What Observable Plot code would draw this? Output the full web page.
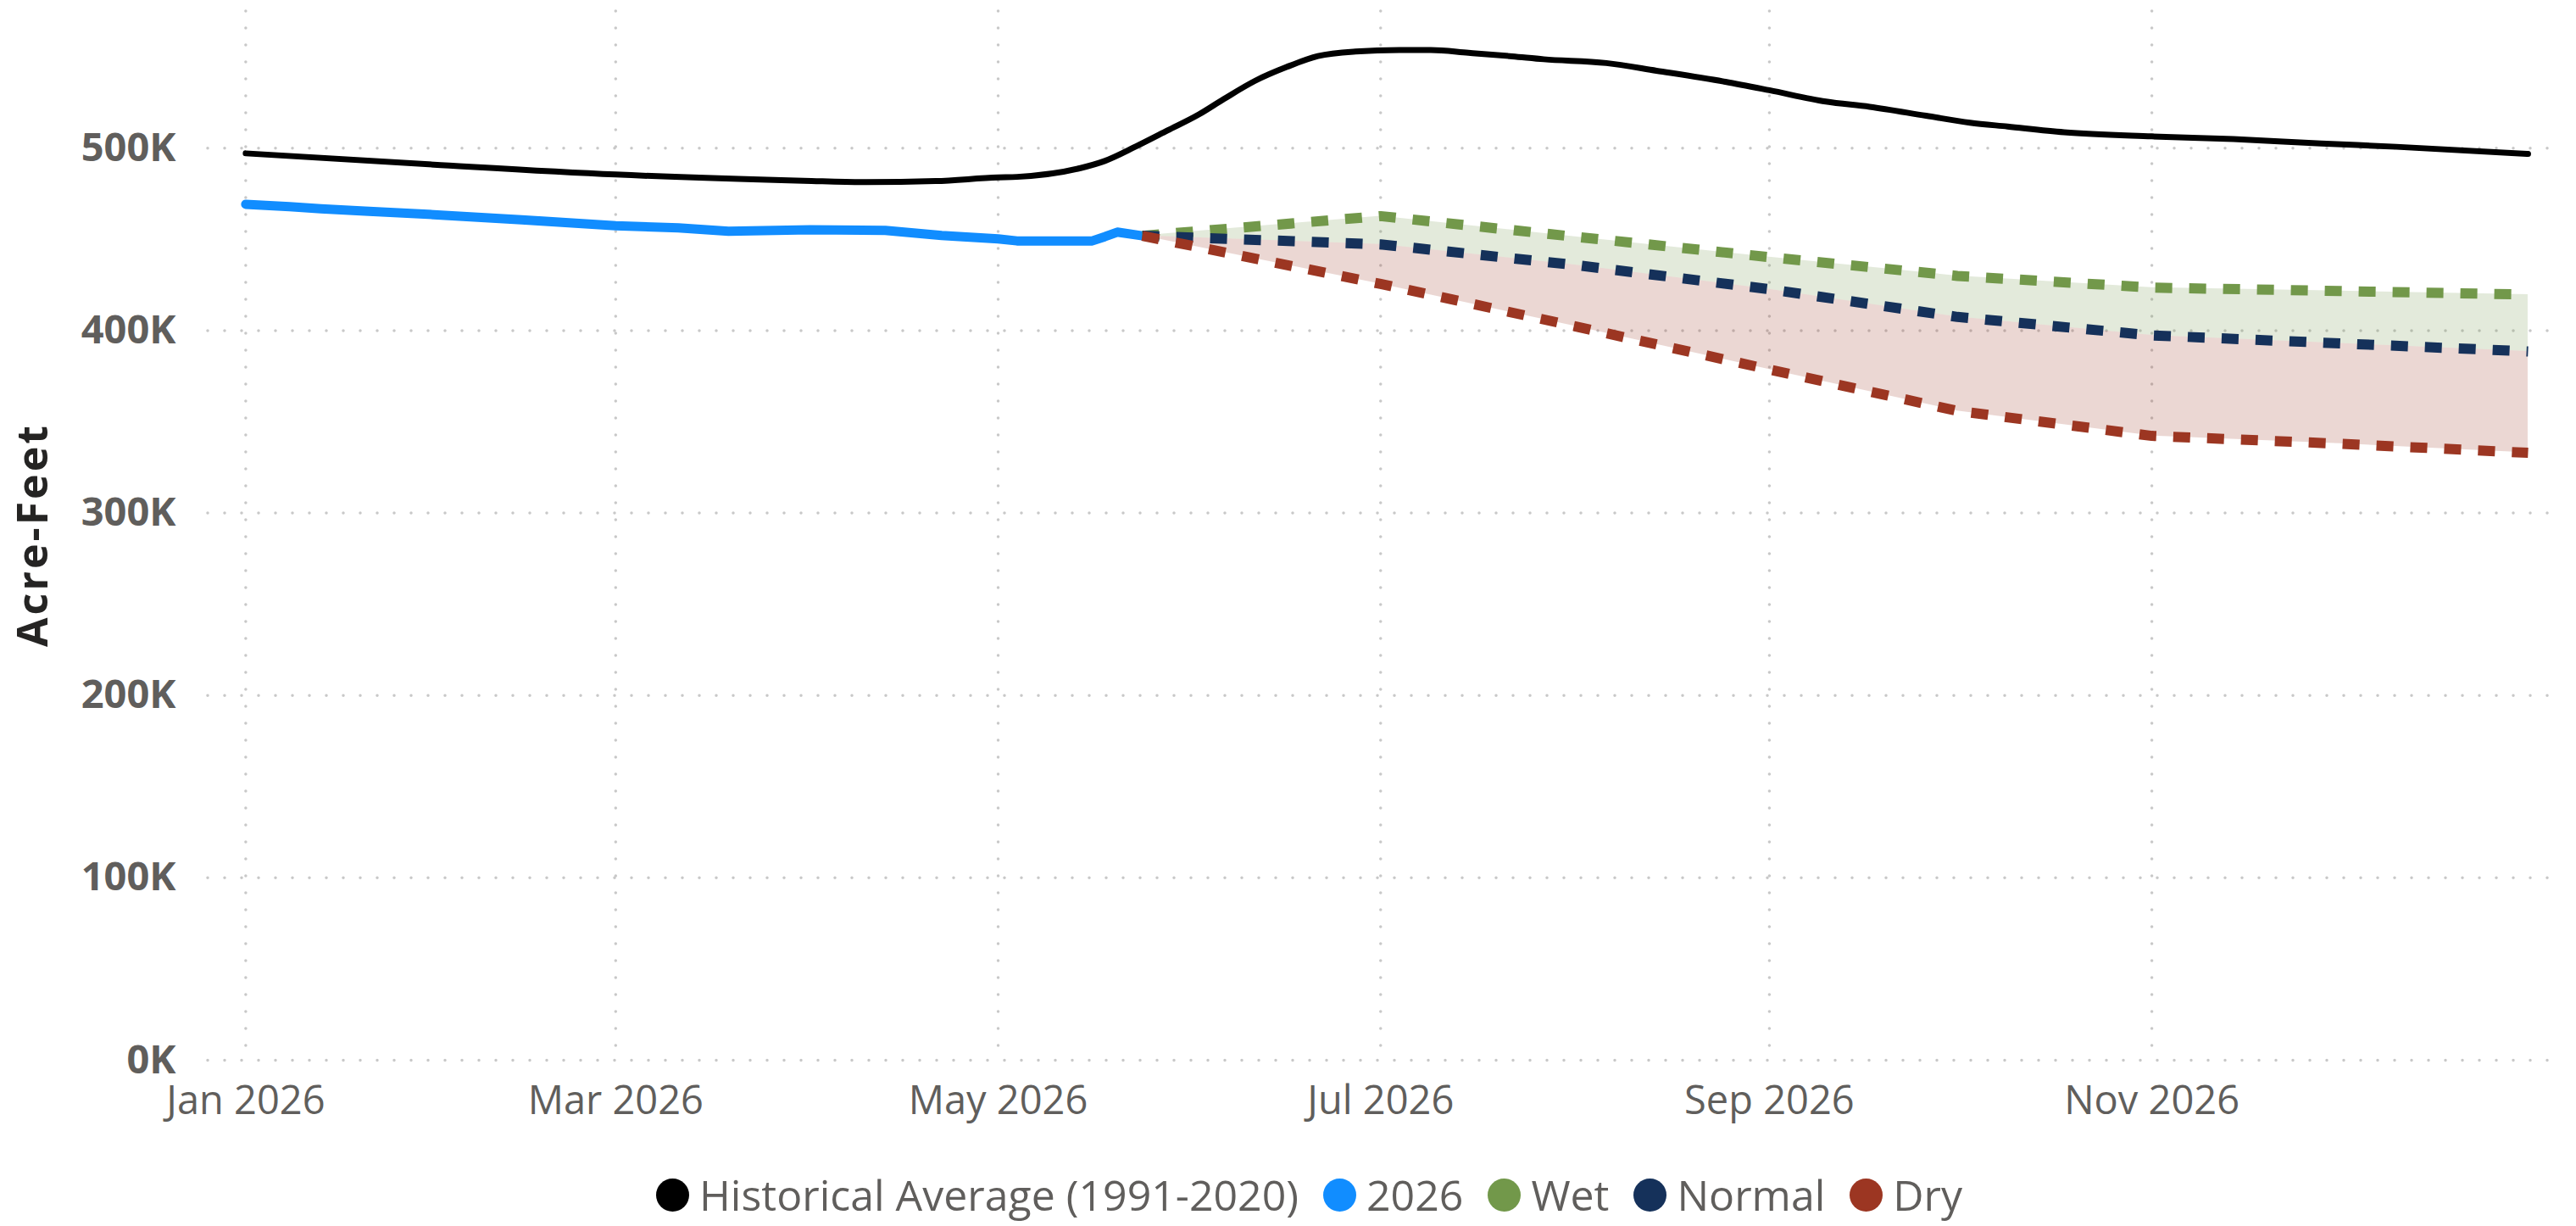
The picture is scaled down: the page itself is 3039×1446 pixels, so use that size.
<!DOCTYPE html>
<html>
<head>
<meta charset="utf-8">
<script src="https://cdn.jsdelivr.net/npm/d3@7"></script>
<script src="https://cdn.jsdelivr.net/npm/@observablehq/plot@0.6"></script>
<style>
  html, body { margin: 0; padding: 0; background: #ffffff; }
  body { font-family: "Open Sans", "Noto Sans", sans-serif; }
  #wrap { position: relative; width: 3039px; height: 1446px; overflow: hidden; }
  #chart { position: absolute; left: 0; top: 0; }
  #ytitle {
    position: absolute; left: 37px; top: 631px;
    transform: translate(-50%, -50%) rotate(-90deg);
    font-weight: bold; font-size: 50px; color: #252423;
    white-space: nowrap; letter-spacing: 3px; line-height: 1;
  }
  #legend {
    position: absolute; left: 774px; top: 1379px; height: 60px;
    display: flex; align-items: center;
    font-size: 50px; color: #605E5C; white-space: nowrap;
  }
  .item { display: flex; align-items: center; margin-right: 29px; }
  .dot { width: 39px; height: 39px; border-radius: 50%; margin-right: 12px; flex: none; }
</style>
</head>
<body>
<div id="wrap">
  <div id="chart"></div>
  <div id="ytitle">Acre-Feet</div>
  <div id="legend"></div>
</div>
<script>
// ---------------- data ----------------
const histDates = ["2026-01-01","2026-01-31","2026-03-01","2026-03-31","2026-04-10","2026-04-21","2026-05-01","2026-05-04","2026-05-14","2026-05-18","2026-05-23","2026-05-28","2026-06-02","2026-06-06","2026-06-11","2026-06-16","2026-06-21","2026-06-27","2026-07-04","2026-07-09","2026-07-15","2026-07-22","2026-07-27","2026-08-06","2026-08-14","2026-08-25","2026-09-01","2026-09-10","2026-09-17","2026-09-26","2026-10-03","2026-10-09","2026-10-18","2026-11-01","2026-11-14","2026-11-28","2026-12-10","2026-12-31"];
const histValues = [497200,491000,485600,482200,481400,482000,484000,484300,489000,493000,501000,509700,518500,527000,537000,544500,550500,553000,553800,553800,552300,550400,548800,546700,542500,536400,531800,525600,522700,517800,514000,511900,508800,506500,505000,502600,500800,496900];

const obsDates = ["2026-01-01","2026-01-08","2026-01-13","2026-01-20","2026-01-31","2026-02-14","2026-03-01","2026-03-11","2026-03-19","2026-04-01","2026-04-13","2026-04-22","2026-05-01","2026-05-04","2026-05-16","2026-05-18","2026-05-20","2026-05-24"];
const obsValues = [469300,468000,466800,465500,463600,460800,457500,456300,454500,455300,455000,452200,450300,449200,449200,451500,454000,452000];

const forecastDates = ["2026-05-24","2026-07-01","2026-08-01","2026-09-01","2026-10-01","2026-11-01","2026-12-01","2026-12-31"];
const wetValues    = [452000,462800,451500,440300,430000,423600,421700,419800];
const normalValues = [452000,447300,436000,422700,407500,397400,393000,388600];
const dryValues    = [452000,425600,402400,378700,356000,342300,338000,333000];

const xTickDates = ["2026-01-01","2026-03-01","2026-05-01","2026-07-01","2026-09-01","2026-11-01"];
const yTicks = [0,100000,200000,300000,400000,500000];

const seriesNames  = ["Historical Average (1991-2020)","2026","Wet","Normal","Dry"];
const seriesColors = ["#000000","#118DFF","#72984A","#15315A","#9C3622"];

// ---------------- tables ----------------
const hist = histDates.map((d,i) => ({date: new Date(d), value: histValues[i]}));
const obs = obsDates.map((d,i) => ({date: new Date(d), value: obsValues[i]}));
const forecast = forecastDates.map((d,i) => ({date: new Date(d), wet: wetValues[i], normal: normalValues[i], dry: dryValues[i]}));
const xTicks = xTickDates.map(d => new Date(d));

const gridStyle = {stroke: "#c8c8c8", strokeOpacity: 1, strokeWidth: 3.5, strokeDasharray: "0,20", strokeLinecap: "round"};

const chart = Plot.plot({
  width: 3039,
  height: 1345,
  marginLeft: 245,
  marginRight: 29,
  marginTop: 13,
  marginBottom: 95,
  style: {fontFamily: '"Open Sans", "Noto Sans", sans-serif', background: "#ffffff", overflow: "visible"},
  x: {type: "utc", domain: [new Date("2025-12-26T00:00Z"), new Date("2027-01-03T19:00Z")]},
  y: {domain: [0, 575000]},
  marks: [
    Plot.gridY(yTicks, gridStyle),
    Plot.gridX(xTicks, gridStyle),
    Plot.areaY(forecast, {x: "date", y1: "normal", y2: "wet", fill: seriesColors[2], fillOpacity: 0.2}),
    Plot.areaY(forecast, {x: "date", y1: "dry", y2: "normal", fill: seriesColors[4], fillOpacity: 0.2}),
    Plot.axisX(xTicks, {tickSize: 0, tickPadding: 30, fontSize: 47, color: "#605E5C", tickFormat: d3.utcFormat("%b %Y"), label: null}),
    Plot.axisY(yTicks, {tickSize: 0, tickPadding: 38, fontSize: 47, fontWeight: "bold", color: "#605E5C", tickFormat: d => (d / 1000) + "K", label: null}),
    Plot.lineY(hist, {x: "date", y: "value", stroke: seriesColors[0], strokeWidth: 7, strokeLinecap: "round", strokeLinejoin: "round", curve: "monotone-x"}),
    Plot.lineY(obs, {x: "date", y: "value", stroke: seriesColors[1], strokeWidth: 11, strokeLinecap: "round", strokeLinejoin: "round"}),
    Plot.lineY(forecast, {x: "date", y: "wet", stroke: seriesColors[2], strokeWidth: 12, strokeDasharray: "20,20", strokeLinecap: "butt"}),
    Plot.lineY(forecast, {x: "date", y: "normal", stroke: seriesColors[3], strokeWidth: 12, strokeDasharray: "20,20", strokeLinecap: "butt"}),
    Plot.lineY(forecast, {x: "date", y: "dry", stroke: seriesColors[4], strokeWidth: 12, strokeDasharray: "20,20", strokeLinecap: "butt"})
  ]
});
document.getElementById("chart").appendChild(chart);

// legend
const legend = document.getElementById("legend");
seriesNames.forEach((name, i) => {
  const item = document.createElement("div");
  item.className = "item";
  const dot = document.createElement("span");
  dot.className = "dot";
  dot.style.background = seriesColors[i];
  const label = document.createElement("span");
  label.textContent = name;
  item.appendChild(dot);
  item.appendChild(label);
  legend.appendChild(item);
});
</script>
</body>
</html>
